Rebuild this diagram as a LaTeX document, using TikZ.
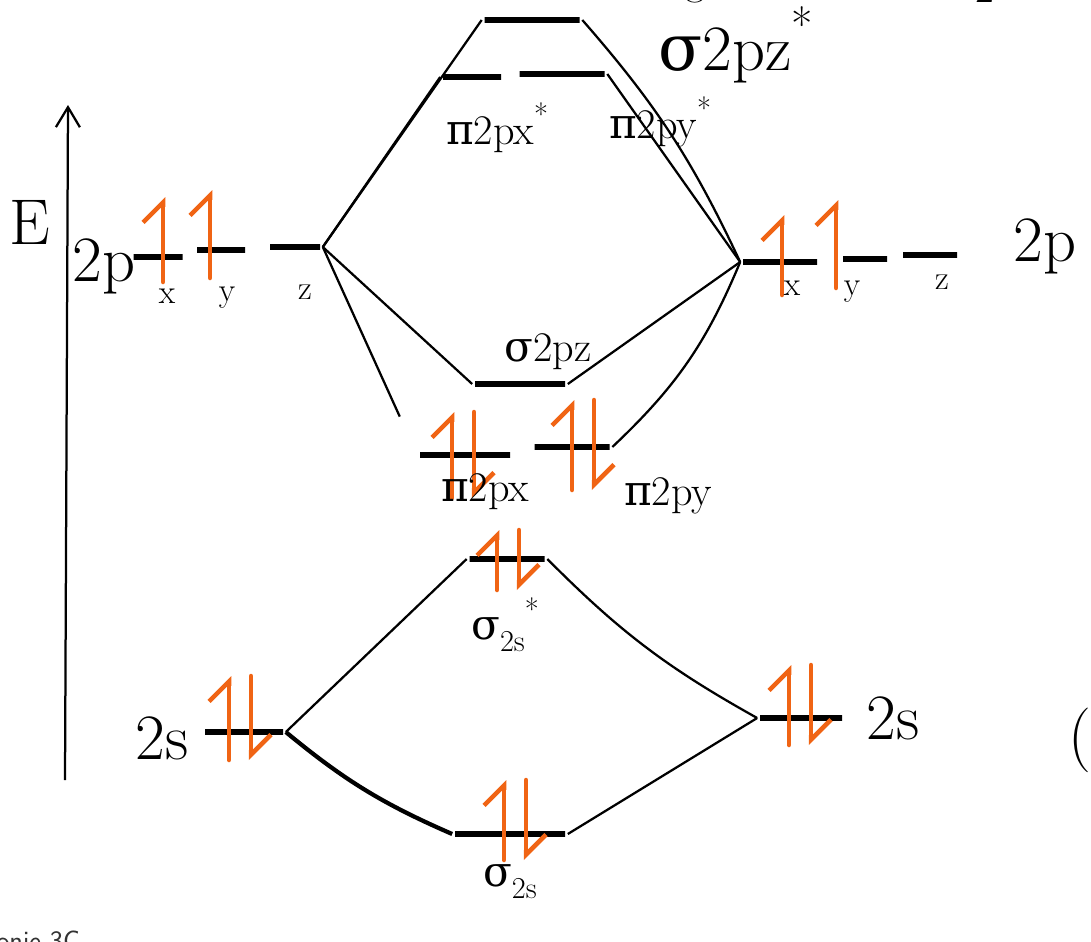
\documentclass[tikz,border=0pt]{standalone}
\usepackage{fontspec}
\newfontfamily\grk{DejaVu Serif}
\usetikzlibrary{arrows.meta}
\definecolor{spin}{RGB}{240,100,20}
\newcommand{\lowr}[1]{\raisebox{-0.28em}{\scalebox{0.72}{#1}}}
\newcommand{\upr}[1]{\raisebox{0.45em}{\scalebox{0.72}{#1}}}
\tikzset{
  level/.style={draw, line width=4pt, minimum width=#1*0.025cm, minimum height=0pt, inner sep=0pt},
  corr/.style={line width=1.6pt},
  lbl/.style={font=\fontsize{30}{34}\selectfont, inner sep=0pt},
  biglbl/.style={font=\fontsize{46}{50}\selectfont, inner sep=0pt},
  sublbl/.style={font=\fontsize{24}{28}\selectfont, inner sep=0pt},
  elup/.style={draw=spin, line width=3.2pt, line cap=round, -{Straight Barb[left,length=5mm]}},
}
\begin{document}
\begin{tikzpicture}[x=0.025cm, y=-0.025cm]
    \useasboundingbox (0,0) rectangle (1091,941);
    \clip (0,0) rectangle (1091,941);
    \newcommand{\elpair}[3]{% electron pair: x, y, half height
        \draw[elup] (#1-11,#2+#3) -- (#1-11,#2-#3);
        \draw[elup] (#1+11,#2-#3) -- (#1+11,#2+#3);
    }

    % energy axis
    \coordinate (Ebot) at (65,780);
    \coordinate (Etop) at (68,105);
    \draw[line width=1.6pt, -{Straight Barb[length=5mm,width=6mm]}] (Ebot) -- (Etop);
    \node[biglbl] (E) at (30,222) {E};

    % atomic levels, left
    \node[level=49] (L2px) at (158,257) {};
    \node[level=48] (L2py) at (221,250) {};
    \node[level=50] (L2pz) at (295,247) {};
    \node[level=78] (L2s) at (244,732) {};
    % atomic levels, right
    \node[level=74] (R2px) at (780,262) {};
    \node[level=44] (R2py) at (865,259) {};
    \node[level=54] (R2pz) at (930,255) {};
    \node[level=82] (R2s) at (801,718) {};

    % molecular levels
    \node[level=95] (sgpzs) at (532,20) {};
    \node[level=58] (pipxs) at (472,77) {};
    \node[level=85] (pipys) at (562,74) {};
    \node[level=90] (sgpz) at (520,384) {};
    \node[level=90] (pipx) at (465,455) {};
    \node[level=75] (pipy) at (572,447) {};
    \node[level=75] (sgss) at (507,559) {};
    \node[level=110] (sgs) at (510,834) {};

    % correlation lines
    \draw[corr] (L2pz.east) -- (sgpzs.west);
    \draw[corr] (L2pz.east) -- (pipxs.west);
    \draw[corr] (L2pz.east) -- (sgpz.west);
    \draw[corr, shorten >=30pt] (L2pz.east) -- (pipx.west);
    \draw[corr] (R2px.west) to[bend right=8] (sgpzs.east);
    \draw[corr] (R2px.west) -- (pipys.east);
    \draw[corr] (R2px.west) -- (sgpz.east);
    \draw[corr] (R2px.west) to[bend left=12] (pipy.east);
    \draw[corr] (L2s.east) -- (sgss.west);
    \draw[corr, line width=3pt] (L2s.east) to[bend right=8] (sgs.west);
    \draw[corr] (R2s.west) to[bend left=8] (sgss.east);
    \draw[corr] (R2s.west) -- (sgs.east);

    % electrons
    \draw[elup] (163,282) -- (163,197);
    \draw[elup] (210,278) -- (210,190);
    \draw[elup] (782,295) -- (782,215);
    \draw[elup] (836,288) -- (836,200);
    \elpair{463}{455}{43}
    \elpair{583}{445}{45}
    \elpair{508}{560}{30}
    \elpair{515}{820}{40}
    \elpair{240}{718}{42}
    \elpair{800}{705}{40}

    % labels
    \node[biglbl] (l2pL) at (104,266) {2p};
    \node[sublbl] (lxL) at (167,296) {x};
    \node[sublbl] (lyL) at (227,298) {y};
    \node[sublbl] (lzL) at (305,292) {z};
    \node[biglbl] (l2pR) at (1045,246) {2p};
    \node[sublbl] (lxR) at (792,288) {x};
    \node[sublbl] (lyR) at (852,292) {y};
    \node[sublbl] (lzR) at (942,282) {z};
    \node[biglbl] (l2sL) at (162,738) {2s};
    \node[biglbl] (l2sR) at (893,718) {2s};
    \node[biglbl] (lsgpzs) at (736,45) {{\grk σ}2pz\upr{*}};
    \node[lbl] (lpipxs) at (497,128) {{\grk π}2px\upr{*}};
    \node[lbl] (lpipys) at (660,122) {{\grk π}2py\upr{*}};
    \node[lbl] (lsgpz) at (548,352) {{\grk σ}2pz};
    \node[lbl] (lpipx) at (485,492) {{\grk π}2px};
    \node[lbl] (lpipy) at (668,496) {{\grk π}2py};
    \node[lbl] (lsgss) at (505,625) {{\grk σ}\lowr{2s}\upr{*}};
    \node[lbl] (lsgs) at (510,882) {{\grk σ}\lowr{2s}};
    \node[biglbl] (paren) at (1080,740) {(};
    \node[lbl] (ltop) at (985,-11) {2};
    \node[lbl] (ltopg) at (695,-11) {g};
    \node[anchor=base west, font=\sffamily\fontsize{20}{24}\selectfont, text=black!80, inner sep=0pt] (lfoot) at (-4,950) {onie 3C};
\end{tikzpicture}
\end{document}
